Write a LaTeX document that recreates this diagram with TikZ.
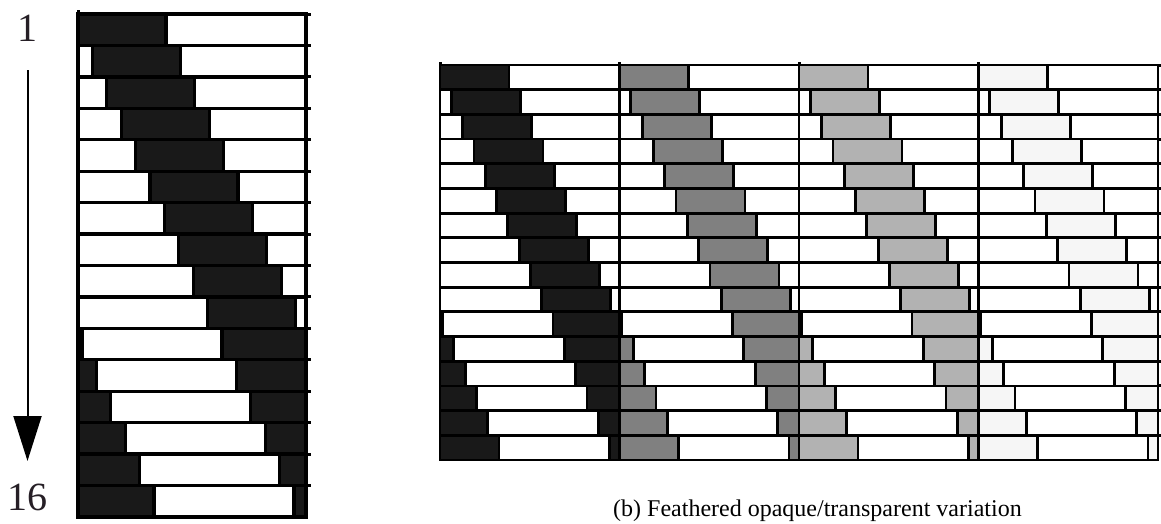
\documentclass[tikz,border=0pt]{standalone}
\usepackage{fontspec}
\setmainfont{Liberation Serif}
\usetikzlibrary{arrows.meta}
\definecolor{barblack}{gray}{0.10}
\definecolor{bargray}{gray}{0.50}
\definecolor{barlight}{gray}{0.70}
\definecolor{barpale}{gray}{0.965}
\definecolor{numcol}{rgb}{0.15,0.12,0.15}
\tikzset{
  segL/.style={draw=black, line width=3.3pt},
  segR/.style={draw=black, line width=2.8pt},
  tickline/.style={draw=black, line width=3pt},
  numlabel/.style={font=\fontsize{40}{40}\selectfont, text=numcol, inner sep=0pt},
  caption/.style={font=\fontsize{24}{24}\selectfont, inner sep=0pt},
  orderarrow/.style={draw=black, line width=2pt, -{Triangle[width=28pt,length=45pt]}}
}
% #1 x0, #2 ytop, #3 W, #4 h, #5 bar width, #6 shift, #7 row index, #8 colour, #9 style
\newcommand{\featherrow}[9]{%
  \pgfmathsetmacro{\rowS}{#7*#6}%
  \pgfmathsetmacro{\rowE}{\rowS+#5}%
  \pgfmathsetmacro{\rowT}{#2+#7*#4}%
  \pgfmathsetmacro{\rowB}{\rowT+#4}%
  \ifdim\rowE pt>#3pt
    \pgfmathsetmacro{\rowW}{\rowE-#3}%
    \filldraw[#9, fill=#8] (#1,\rowT) rectangle ({#1+\rowW},\rowB);
    \filldraw[#9, fill=white] ({#1+\rowW},\rowT) rectangle ({#1+\rowS},\rowB);
    \filldraw[#9, fill=#8] ({#1+\rowS},\rowT) rectangle ({#1+#3},\rowB);
  \else
    \filldraw[#9, fill=white] (#1,\rowT) rectangle ({#1+\rowS},\rowB);
    \filldraw[#9, fill=#8] ({#1+\rowS},\rowT) rectangle ({#1+\rowE},\rowB);
    \filldraw[#9, fill=white] ({#1+\rowE},\rowT) rectangle ({#1+#3},\rowB);
  \fi
}
\begin{document}
\begin{tikzpicture}[x=1pt,y=-1pt]
\useasboundingbox (0,0) rectangle (1161,523);
\fill[white] (0,0) rectangle (1161,523);

% ---------- left panel ----------
\foreach \k in {0,...,15} {
  \featherrow{78}{14}{228}{31.4375}{88}{14.4}{\k}{barblack}{segL}
}
\foreach \k in {0,...,15} {
  \draw[tickline] (306,{14+\k*31.4375}) -- (311,{14+\k*31.4375});
}
\draw[tickline] (78,14) -- (78,10);

% order arrow and labels
\node[numlabel, anchor=base] (one) at (27.5,41.5) {1};
\node[numlabel, anchor=base] (sixteen) at (27.5,510) {16};
\coordinate (arrS) at (27.5,70);
\coordinate (arrE) at (27.5,461);
\draw[orderarrow] (arrS) -- (arrE);

% ---------- right panel ----------
\foreach \cx/\col in {440/barblack, 619.5/bargray, 799/barlight, 978.5/barpale} {
  \foreach \k in {0,...,15} {
    \featherrow{\cx}{65}{179.5}{24.6875}{69}{11.3}{\k}{\col}{segR}
  }
  \draw[tickline] (\cx,65) -- (\cx,62);
}
\foreach \k in {0,...,15} {
  \draw[tickline] (1158,{65+\k*24.6875}) -- (1160.5,{65+\k*24.6875});
}

\node[caption, anchor=base west] (cap) at (613,516) {(b) Feathered opaque/transparent variation};
\end{tikzpicture}
\end{document}
